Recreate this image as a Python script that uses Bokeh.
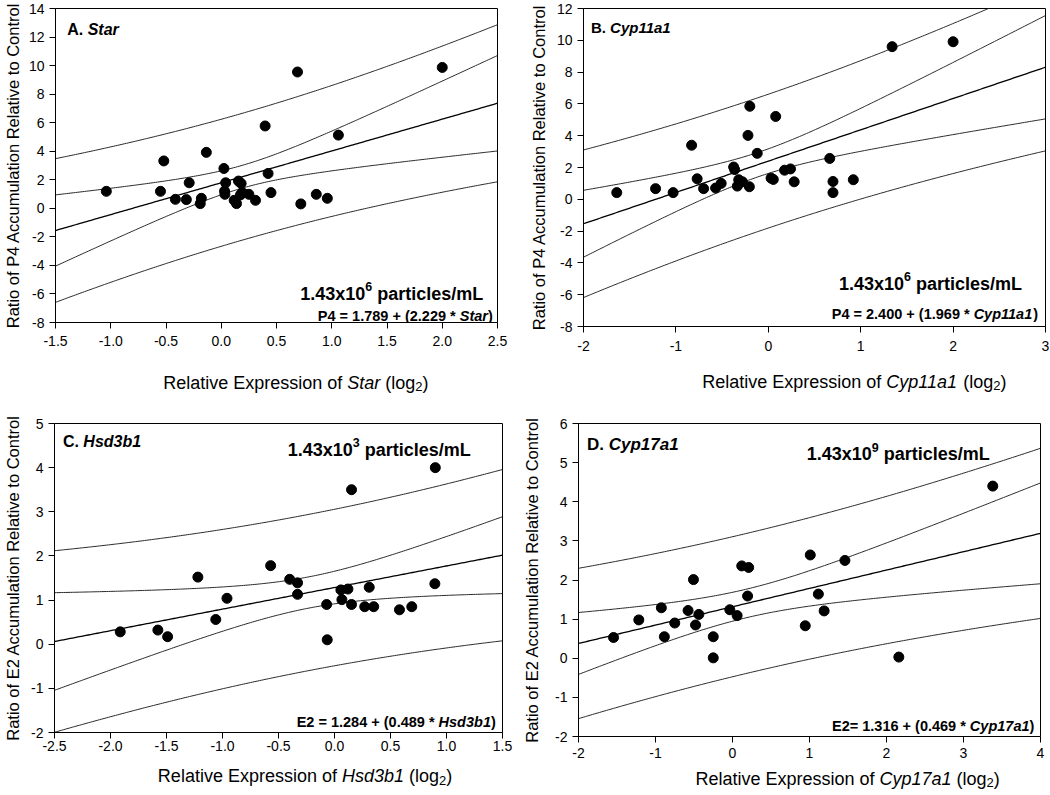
import numpy as np
from bokeh.plotting import figure
from bokeh.models import Range1d, FixedTicker, Label
from bokeh.layouts import column, row
from bokeh.embed import file_html
from bokeh.resources import INLINE

FONT = "Liberation Sans"

# ---------------- data ----------------
# Panel A : Star vs P4
star_x = [-1.04, -0.52, -0.55, -0.415, -0.316, -0.29, -0.135, -0.18, -0.19, 0.024,
          0.04, 0.03, 0.033, 0.156, 0.18, 0.117, 0.138, 0.174, 0.19, 0.25,
          0.31, 0.397, 0.424, 0.45, 0.69, 0.72, 0.86, 0.96, 1.06, 2.00]
star_y = [1.19, 3.32, 1.19, 0.63, 0.61, 1.79, 3.92, 0.70, 0.33, 2.79,
          1.79, 1.21, 0.98, 1.91, 1.74, 0.56, 0.33, 0.94, 1.10, 0.98,
          0.56, 5.77, 2.44, 1.10, 9.55, 0.31, 0.98, 0.70, 5.13, 9.87]
star_fit = [1.789, 2.229]

# Panel B : Cyp11a1 vs P4
cyp11_x = [-1.64, -1.22, -1.03, -0.83, -0.77, -0.70, -0.57, -0.51, -0.375, -0.364,
           -0.32, -0.335, -0.28, -0.205, -0.20, -0.22, -0.12, 0.03, 0.054, 0.08,
           0.176, 0.24, 0.28, 0.665, 0.70, 0.70, 0.92, 1.34, 2.00]
cyp11_y = [0.42, 0.67, 0.42, 3.40, 1.29, 0.67, 0.71, 1.00, 2.03, 1.87,
           1.23, 0.83, 1.10, 0.79, 5.85, 4.02, 2.89, 1.33, 1.25, 5.21,
           1.83, 1.91, 1.10, 2.57, 1.12, 0.42, 1.23, 9.60, 9.91]
cyp11_fit = [2.400, 1.969]

# Panel C : Hsd3b1 vs E2
hsd_x = [-1.913, -1.577, -1.49, -1.22, -1.06, -0.96, -0.57, -0.40, -0.33, -0.33,
         -0.07, -0.065, 0.057, 0.12, 0.066, 0.152, 0.152, 0.27, 0.31, 0.35,
         0.58, 0.69, 0.896, 0.90]
hsd_y = [0.28, 0.32, 0.17, 1.52, 0.56, 1.04, 1.78, 1.47, 1.39, 1.13,
         0.90, 0.10, 1.23, 1.25, 1.01, 0.90, 3.50, 0.85, 1.29, 0.85,
         0.78, 0.85, 1.37, 4.00]
hsd_fit = [1.284, 0.489]

# Panel D : Cyp17a1 vs E2
cyp17_x = [-1.545, -1.217, -0.924, -0.885, -0.75, -0.577, -0.507, -0.48, -0.437, -0.25,
           -0.25, -0.035, 0.06, 0.12, 0.21, 0.196, 0.945, 1.01, 1.115, 1.19,
           1.46, 2.16, 3.38]
cyp17_y = [0.53, 0.98, 1.29, 0.55, 0.90, 1.22, 2.01, 0.85, 1.12, 0.55,
           0.01, 1.24, 1.09, 2.36, 2.32, 1.59, 0.83, 2.64, 1.64, 1.21,
           2.50, 0.03, 4.40]
cyp17_fit = [1.316, 0.469]

# tick values / labels
a_xticks = [-1.5, -1.0, -0.5, 0.0, 0.5, 1.0, 1.5, 2.0, 2.5]
a_xlabels = ["-1.5", "-1.0", "-0.5", "0.0", "0.5", "1.0", "1.5", "2.0", "2.5"]
a_yticks = [-8, -6, -4, -2, 0, 2, 4, 6, 8, 10, 12, 14]
a_ylabels = ["-8", "-6", "-4", "-2", "0", "2", "4", "6", "8", "10", "12", "14"]
b_xticks = [-2, -1, 0, 1, 2, 3]
b_xlabels = ["-2", "-1", "0", "1", "2", "3"]
b_yticks = [-8, -6, -4, -2, 0, 2, 4, 6, 8, 10, 12]
b_ylabels = ["-8", "-6", "-4", "-2", "0", "2", "4", "6", "8", "10", "12"]
c_xticks = [-2.5, -2.0, -1.5, -1.0, -0.5, 0.0, 0.5, 1.0, 1.5]
c_xlabels = ["-2.5", "-2.0", "-1.5", "-1.0", "-0.5", "0.0", "0.5", "1.0", "1.5"]
c_yticks = [-2, -1, 0, 1, 2, 3, 4, 5]
c_ylabels = ["-2", "-1", "0", "1", "2", "3", "4", "5"]
d_xticks = [-2, -1, 0, 1, 2, 3, 4]
d_xlabels = ["-2", "-1", "0", "1", "2", "3", "4"]
d_yticks = [-2, -1, 0, 1, 2, 3, 4, 5, 6]
d_ylabels = ["-2", "-1", "0", "1", "2", "3", "4", "5", "6"]

# ---------------- helpers ----------------
REG = {' ': 278, '(': 333, ')': 333, '.': 278, '*': 389, '+': 584, '=': 584, '/': 278, '-': 333,
       'A': 667, 'B': 667, 'C': 722, 'D': 722, 'E': 667, 'H': 722, 'L': 556, 'P': 667, 'R': 722, 'S': 667,
       'a': 556, 'b': 556, 'c': 500, 'd': 556, 'e': 556, 'f': 278, 'g': 556, 'h': 556, 'i': 222, 'l': 222,
       'm': 833, 'n': 556, 'o': 556, 'p': 556, 'r': 333, 's': 500, 't': 278, 'u': 556, 'v': 500, 'x': 500, 'y': 500}
BOLD = {' ': 278, '(': 333, ')': 333, '.': 278, '*': 389, '+': 584, '=': 584, '/': 278, '-': 333,
        'A': 722, 'B': 722, 'C': 722, 'D': 722, 'E': 667, 'H': 722, 'L': 611, 'P': 667, 'R': 722, 'S': 667,
        'a': 556, 'b': 611, 'c': 556, 'd': 611, 'e': 556, 'f': 333, 'g': 611, 'h': 611, 'i': 278, 'l': 278,
        'm': 889, 'n': 611, 'o': 611, 'p': 611, 'r': 389, 's': 556, 't': 333, 'u': 611, 'v': 556, 'x': 556, 'y': 556}


def text_w(s, size, bold):
    tab = BOLD if bold else REG
    return sum(tab.get(c, 556) for c in s) * size / 1000.0


def rich(p, x, y, segs, align="left", yoff=0.0):
    """segs: (text, size, bold, italic, dy)"""
    widths = [text_w(t, sz, b) for (t, sz, b, it, dy) in segs]
    total = sum(widths)
    cur = {"left": 0.0, "right": -total, "center": -total / 2.0}[align]
    for (t, sz, b, it, dy), w in zip(segs, widths):
        lead = len(t) - len(t.lstrip(" "))
        txt = t.strip(" ")
        off = cur + text_w(" " * lead, sz, b)
        style = ("bold " if b else "") + ("italic" if it else "")
        style = style.strip() or "normal"
        p.add_layout(Label(x=x, y=y, x_offset=off, y_offset=yoff + dy, text=txt,
                           text_font=FONT, text_font_size=f"{sz}px", text_font_style=style,
                           text_color="black", text_align="left", text_baseline="alphabetic"))
        cur += w


def t975(df):
    z = 1.959964
    g1 = (z ** 3 + z) / 4
    g2 = (5 * z ** 5 + 16 * z ** 3 + 3 * z) / 96
    g3 = (3 * z ** 7 + 19 * z ** 5 + 17 * z ** 3 - 15 * z) / 384
    return z + g1 / df + g2 / df ** 2 + g3 / df ** 3


def panel(xd, yd, fit, xr, yr, xt, xl, yt, yl, width, height, mb, ylabel, ylab_standoff, xstand):
    p = figure(width=width, height=height, x_range=Range1d(*xr), y_range=Range1d(*yr),
               output_backend="svg", toolbar_location=None, title=None,
               min_border_left=mb[0], min_border_right=mb[1], min_border_top=mb[2], min_border_bottom=mb[3],
               background_fill_color="white", border_fill_color="white")
    p.xgrid.visible = False
    p.ygrid.visible = False
    p.outline_line_color = "black"
    p.outline_line_width = 1
    p.outline_line_alpha = 1
    for ax, ticks, labels in ((p.xaxis[0], xt, xl), (p.yaxis[0], yt, yl)):
        ax.ticker = FixedTicker(ticks=ticks)
        ax.major_label_overrides = {v: s for v, s in zip(ticks, labels)}
        ax.minor_tick_line_color = None
        ax.major_tick_in = 0
        ax.major_tick_out = 6
        ax.major_tick_line_color = "black"
        ax.axis_line_color = "black"
        ax.major_label_text_font = FONT
        ax.major_label_text_font_size = "14px"
        ax.major_label_text_color = "black"
    p.xaxis[0].major_label_standoff = xstand
    p.yaxis[0].major_label_standoff = 5
    p.yaxis[0].axis_label = ylabel
    p.yaxis[0].axis_label_text_font = FONT
    p.yaxis[0].axis_label_text_font_size = "16.5px"
    p.yaxis[0].axis_label_text_font_style = "normal"
    p.yaxis[0].axis_label_text_color = "black"
    p.yaxis[0].axis_label_standoff = ylab_standoff

    # regression line and 95% confidence / prediction bands
    x = np.asarray(xd, float)
    y = np.asarray(yd, float)
    b0, b1 = fit
    n = len(x)
    xbar = x.mean()
    sxx = ((x - xbar) ** 2).sum()
    s = np.sqrt(((y - (b0 + b1 * x)) ** 2).sum() / (n - 2))
    t = t975(n - 2)
    xs = np.linspace(xr[0], xr[1], 200)
    yh = b0 + b1 * xs
    ci = t * s * np.sqrt(1.0 / n + (xs - xbar) ** 2 / sxx)
    pi = t * s * np.sqrt(1.0 + 1.0 / n + (xs - xbar) ** 2 / sxx)
    for band in (yh + ci, yh - ci, yh + pi, yh - pi):
        p.line(xs, band, line_color="#2a2a2a", line_width=1)
    p.line(xs, yh, line_color="black", line_width=1.3)
    p.scatter(xd, yd, size=10, marker="circle", fill_color="black", line_color="black")
    return p


def label_fig(width, height):
    f = figure(width=width, height=height, x_range=Range1d(0, width), y_range=Range1d(height, 0),
               output_backend="svg", toolbar_location=None, title=None,
               x_axis_type=None, y_axis_type=None,
               min_border_left=0, min_border_right=0, min_border_top=0, min_border_bottom=0,
               background_fill_color="white", border_fill_color="white")
    f.outline_line_color = None
    f.xgrid.visible = False
    f.ygrid.visible = False
    return f


def xlabel(f, x, y, gene):
    rich(f, x, y, [("Relative Expression of ", 18, False, False, 0), (gene, 18, False, True, 0),
                   (" (log", 18, False, False, 0), ("2", 13, False, False, -4), (")", 18, False, False, 0)],
         align="center")


# ---------------- panels ----------------
WL, WR = 515, 534
pA = panel(star_x, star_y, star_fit, (-1.5, 2.5), (-8, 14), a_xticks, a_xlabels, a_yticks, a_ylabels,
           WL, 354, (55, 18, 8, 32), "Ratio of P4 Accumulation Relative to Control", 4, 7)
pB = panel(cyp11_x, cyp11_y, cyp11_fit, (-2, 3), (-8, 12), b_xticks, b_xlabels, b_yticks, b_ylabels,
           WR, 358, (68, 4, 8, 32), "Ratio of P4 Accumulation Relative to Control", 6, 8)
pC = panel(hsd_x, hsd_y, hsd_fit, (-2.5, 1.5), (-2, 5), c_xticks, c_xlabels, c_yticks, c_ylabels,
           WL, 344, (54, 13, 9, 26), "Ratio of E2 Accumulation Relative to Control", 6, 2)
pD = panel(cyp17_x, cyp17_y, cyp17_fit, (-2, 4), (-2, 6), d_xticks, d_xlabels, d_yticks, d_ylabels,
           WR, 350, (63, 9, 9, 28), "Ratio of E2 Accumulation Relative to Control", 11, 5)

# panel titles
rich(pA, -1.394, 12.54, [("A. ", 16, True, False, 0), ("Star", 16, True, True, 0)])
rich(pB, -1.92, 10.79, [("B. ", 15, True, False, 0), ("Cyp11a1", 15, True, True, 0)])
rich(pC, -2.425, 4.586, [("C. ", 16, True, False, 0), ("Hsd3b1", 16, True, True, 0)])
rich(pD, -1.89, 5.47, [("D. ", 17, True, False, 0), ("Cyp17a1", 17, True, True, 0)])


def particles(p, x, y, exp):
    rich(p, x, y, [("1.43x10", 18, True, False, 0), (exp, 12.5, True, False, 7),
                   (" particles/mL", 18, True, False, 0)], align="right")


particles(pA, 2.371, -5.97, "6")
particles(pB, 2.745, -5.30, "6")
particles(pC, 1.217, 4.40, "3")
particles(pD, 3.34, 5.22, "9")

# equations
rich(pA, 2.457, -7.51, [("P4 = 1.789 + (2.229 * ", 14.5, True, False, 0), ("Star", 14.5, True, True, 0),
                        (")", 14.5, True, False, 0)], align="right")
rich(pB, 2.92, -7.22, [("P4 = 2.400 + (1.969 * ", 14.5, True, False, 0), ("Cyp11a1", 14.5, True, True, 0),
                       (")", 14.5, True, False, 0)], align="right")
rich(pC, 1.44, -1.76, [("E2 = 1.284 + (0.489 * ", 14.5, True, False, 0), ("Hsd3b1", 14.5, True, True, 0),
                       (")", 14.5, True, False, 0)], align="right")
rich(pD, 3.92, -1.73, [("E2= 1.316 + (0.469 * ", 14.5, True, False, 0), ("Cyp17a1", 14.5, True, True, 0),
                       (")", 14.5, True, False, 0)], align="right")

# x-axis label strips
fA = label_fig(WL, 60)
fB = label_fig(WR, 56)
fC = label_fig(WL, 36)
fD = label_fig(WR, 30)
xlabel(fA, 280, 28, "Star")
xlabel(fB, 313, 23, "Cyp11a1")
xlabel(fC, 288, 17.7, "Hsd3b1")
xlabel(fD, 311, 14, "Cyp17a1")

layout = column(row(column(pA, fA), column(pB, fB)), row(column(pC, fC), column(pD, fD)))
open("out.html", "w").write(file_html(layout, INLINE))
